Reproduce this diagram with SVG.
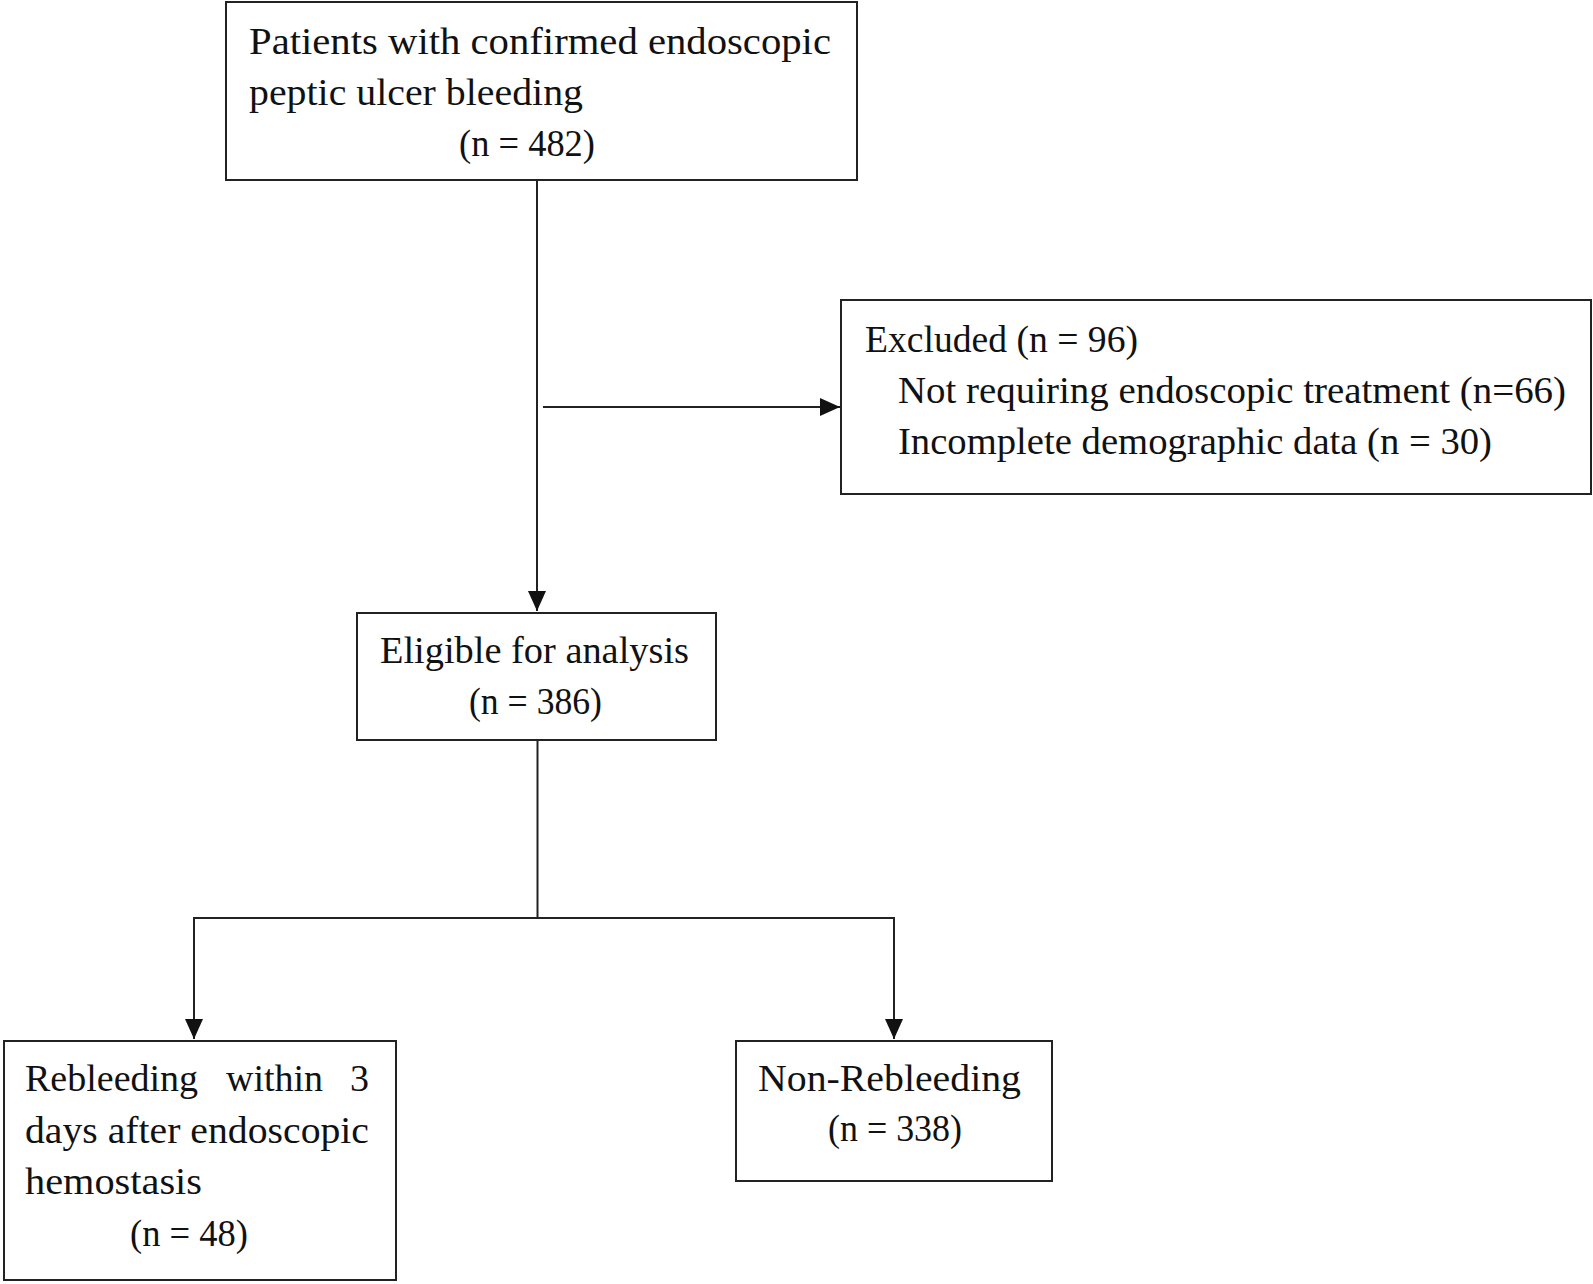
<svg xmlns="http://www.w3.org/2000/svg" width="1593" height="1284" viewBox="0 0 1593 1284">
<style>
.box{fill:#fff;stroke:#222;stroke-width:2}
.ln{fill:none;stroke:#222;stroke-width:2}
text{font-family:"Liberation Serif","DejaVu Serif",serif;font-size:38px;fill:#111}
.c{text-anchor:middle}
</style>
<defs>
<marker id="ah" markerUnits="userSpaceOnUse" markerWidth="22" markerHeight="18" refX="20" refY="9" orient="auto">
<polygon points="0,0 20,9 0,18" fill="#111"/>
</marker>
</defs>
<rect width="1593" height="1284" fill="#fff"/>
<g id="connectors">
<line class="ln" x1="537" y1="180" x2="537" y2="611" marker-end="url(#ah)"/>
<line class="ln" x1="543" y1="407" x2="840" y2="407" marker-end="url(#ah)"/>
<polyline class="ln" points="537.5,740 537.5,918"/>
<polyline class="ln" points="194,1000 194,918 894,918 894,1000"/>
<line class="ln" x1="194" y1="998" x2="194" y2="1039" marker-end="url(#ah)"/>
<line class="ln" x1="894" y1="998" x2="894" y2="1039" marker-end="url(#ah)"/>
</g>
<g id="n1">
<rect class="box" x="226" y="2" width="631" height="178"/>
<text x="249" y="54" textLength="582" lengthAdjust="spacingAndGlyphs">Patients with  confirmed endoscopic</text>
<text x="249" y="105" textLength="334" lengthAdjust="spacingAndGlyphs">peptic ulcer bleeding</text>
<text x="459" y="156" textLength="136" lengthAdjust="spacingAndGlyphs">(n = 482)</text>
</g>
<g id="n2">
<rect class="box" x="841" y="300" width="750" height="194"/>
<text x="865" y="352" textLength="273" lengthAdjust="spacingAndGlyphs">Excluded (n = 96)</text>
<text x="898" y="403" textLength="668" lengthAdjust="spacingAndGlyphs">Not requiring endoscopic treatment (n=66)</text>
<text x="898" y="454" textLength="594" lengthAdjust="spacingAndGlyphs">Incomplete demographic data (n = 30)</text>
</g>
<g id="n3">
<rect class="box" x="357" y="613" width="359" height="127"/>
<text x="380" y="663" textLength="309" lengthAdjust="spacingAndGlyphs">Eligible for analysis</text>
<text x="469" y="714" textLength="133" lengthAdjust="spacingAndGlyphs">(n = 386)</text>
</g>
<g id="n4">
<rect class="box" x="4" y="1041" width="392" height="239"/>
<text y="1091"><tspan x="25">Rebleeding</tspan> <tspan x="226">within</tspan> <tspan x="350">3</tspan></text>
<text x="25" y="1143" textLength="344" lengthAdjust="spacingAndGlyphs">days after endoscopic</text>
<text x="25" y="1194" textLength="177" lengthAdjust="spacingAndGlyphs">hemostasis</text>
<text x="130" y="1246" textLength="118" lengthAdjust="spacingAndGlyphs">(n = 48)</text>
</g>
<g id="n5">
<rect class="box" x="736" y="1041" width="316" height="140"/>
<text x="758" y="1091" textLength="263" lengthAdjust="spacingAndGlyphs">Non-Rebleeding</text>
<text x="828" y="1141" textLength="134" lengthAdjust="spacingAndGlyphs">(n = 338)</text>
</g>
</svg>
